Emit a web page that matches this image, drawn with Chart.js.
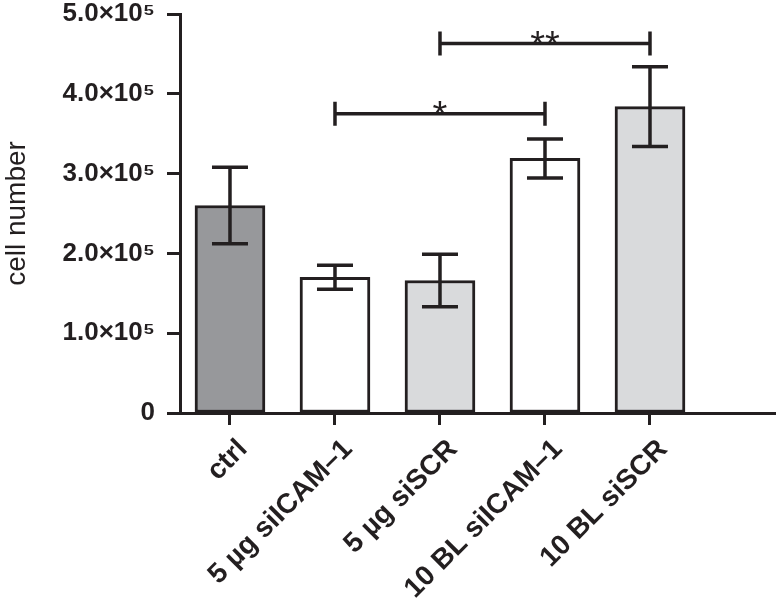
<!DOCTYPE html>
<html>
<head>
<meta charset="utf-8">
<script src="https://cdn.jsdelivr.net/npm/chart.js@4"></script>
<style>
  body { margin: 0; background: #fff; }
  canvas { display: block; }
</style>
</head>
<body>
<canvas id="cellChart" width="776" height="610"></canvas>
<script>
  // values (cells)
  const groups = ["ctrl", "5 µg siICAM–1", "5 µg siSCR", "10 BL siICAM–1", "10 BL siSCR"];
  const means = [2.60e5, 1.70e5, 1.66e5, 3.19e5, 3.84e5];
  const errors = [0.48e5, 0.15e5, 0.33e5, 0.245e5, 0.50e5];
  const fills = ["#97989b", "#ffffff", "#d9dadc", "#ffffff", "#d9dadc"];

  // significance brackets
  const sigFrom = [1, 2];
  const sigTo = [3, 4];
  const sigLevel = [3.75e5, 4.63e5];
  const sigText = ["*", "**"];

  const yTicks = [0, 1e5, 2e5, 3e5, 4e5, 5e5];

  const ink = "#231f20";

  const errorBars = {
    id: "errorBars",
    afterDatasetsDraw(chart) {
      const x = chart.scales.x, y = chart.scales.y, ctx = chart.ctx;
      ctx.save();
      ctx.strokeStyle = ink;
      ctx.lineWidth = 3.5;
      ctx.lineCap = "butt";
      means.forEach(function (m, i) {
        const px = x.getPixelForValue(i);
        const top = y.getPixelForValue(m + errors[i]);
        const bot = y.getPixelForValue(m - errors[i]);
        ctx.beginPath();
        ctx.moveTo(px, top); ctx.lineTo(px, bot);
        ctx.moveTo(px - 18, top); ctx.lineTo(px + 18, top);
        ctx.moveTo(px - 18, bot); ctx.lineTo(px + 18, bot);
        ctx.stroke();
      });
      // brackets
      ctx.fillStyle = ink;
      ctx.font = "38px 'Liberation Sans', Arial, sans-serif";
      ctx.textAlign = "center";
      ctx.textBaseline = "alphabetic";
      sigFrom.forEach(function (f, k) {
        const x1 = x.getPixelForValue(f), x2 = x.getPixelForValue(sigTo[k]);
        const py = y.getPixelForValue(sigLevel[k]);
        ctx.beginPath();
        ctx.moveTo(x1, py); ctx.lineTo(x2, py);
        ctx.moveTo(x1, py - 12); ctx.lineTo(x1, py + 12);
        ctx.moveTo(x2, py - 12); ctx.lineTo(x2, py + 12);
        ctx.stroke();
        ctx.fillText(sigText[k], (x1 + x2) / 2, py + 14);
      });
      ctx.restore();
    }
  };

  new Chart(document.getElementById("cellChart"), {
    type: "bar",
    data: {
      datasets: [{
        data: means.map((v, i) => ({ x: i, y: v })),
        backgroundColor: fills,
        borderColor: ink,
        borderWidth: 3,
        borderSkipped: false,
        barThickness: 70,
      }],
    },
    options: {
      responsive: false,
      animation: false,
      events: [],
      layout: { padding: { top: 14, right: 0, left: 0, bottom: 0 } },
      plugins: { legend: { display: false }, tooltip: { enabled: false } },
      scales: {
        x: {
          type: "linear",
          offset: false,
          min: -0.476,
          max: 5.2,
          afterBuildTicks: (axis) => { axis.ticks = groups.map((_, i) => ({ value: i })); },
          afterFit: (axis) => { axis.height = 197; axis.paddingLeft = 0; axis.paddingRight = 0; },
          grid: { display: true, offset: false, drawOnChartArea: false, drawTicks: true, tickLength: 12, tickWidth: 3, tickColor: ink },
          border: { display: true, width: 3, color: ink },
          ticks: {
            minRotation: 45,
            maxRotation: 45,
            padding: 8,
            labelOffset: 13,
            color: ink,
            font: { family: "'Liberation Sans', Arial, sans-serif", size: 28, weight: "bold" },
            callback: (v) => groups[v],
          },
        },
        y: {
          min: 0,
          max: 5e5,
          afterBuildTicks: (axis) => { axis.ticks = yTicks.map((v) => ({ value: v })); },
          afterFit: (axis) => { axis.width = 180; axis.paddingTop = 0; axis.paddingBottom = 0; },
          grid: { display: true, drawOnChartArea: false, drawTicks: true, tickLength: 13, tickWidth: 3, tickColor: ink },
          border: { display: true, width: 3, color: ink },
          title: {
            display: true,
            text: "cell number",
            color: ink,
            padding: { top: 0, bottom: 0 },
            font: { family: "'Liberation Sans', Arial, sans-serif", size: 28 },
          },
          ticks: {
            padding: 12,
            color: ink,
            font: { family: "'Liberation Sans', Arial, sans-serif", size: 26, weight: "bold" },
            callback: (v) => v === 0 ? "0" : (v / 1e5).toFixed(1) + "×10⁵",
          },
        },
      },
    },
    plugins: [errorBars],
  });
</script>
</body>
</html>
